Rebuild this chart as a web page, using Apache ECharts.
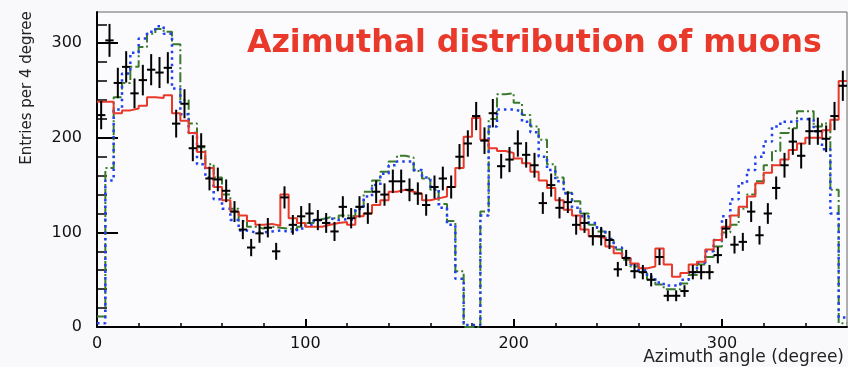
<!DOCTYPE html>
<html><head><meta charset="utf-8">
<script src="https://cdn.jsdelivr.net/npm/echarts@6/dist/echarts.min.js"></script>
<style>html,body{margin:0;padding:0;background:#f9f9fb;}#c{width:848px;height:367px;}</style>
</head><body><div id="c"></div>
<script>
// bin width in degrees (90 bins over 0..360)
const binWidth = 4;

// measured entries (black crosses)
const dataCounts = [
  224,303,258,275,247,261,272,269,274,215,236,189,191,157,156,
  144,122,103,84,99,105,80,137,108,117,120,113,110,101,127,
  115,127,120,143,140,154,154,145,141,129,148,157,148,180,194,
  223,197,226,170,177,194,182,171,131,150,126,132,108,110,96,
  96,92,61,73,59,58,50,74,33,33,38,58,58,58,76,
  104,87,90,122,97,120,147,171,196,181,207,207,199,223,255
];
// red solid histogram
const redHist = [
  238,238,226,229,231,234,243,242,245,226,218,205,185,168,148,
  134,122,118,112,108,109,107,140,115,110,106,106,108,110,111,
  108,117,120,129,134,143,145,143,141,134,136,138,148,168,201,
  221,198,189,186,184,178,173,164,155,147,134,124,118,103,96,
  94,85,78,73,67,62,64,83,66,53,57,66,69,82,92,
  106,118,127,138,152,163,171,177,187,194,200,200,208,219,260
];
// green dash-dot histogram
const greenHist = [
  11,168,243,258,275,296,310,315,312,299,240,215,190,172,158,
  140,125,112,106,104,106,105,104,103,106,110,114,116,114,118,
  117,127,143,155,164,175,181,179,165,157,145,130,112,59,0,
  0,122,220,246,247,237,224,212,198,172,158,142,133,120,108,
  101,92,82,71,64,57,50,45,40,40,46,55,66,74,85,
  100,108,125,140,154,171,186,205,210,228,228,212,215,145,4
];
// blue dotted histogram
const blueHist = [
  4,155,230,268,290,305,312,318,310,252,225,205,172,158,135,
  125,113,102,100,100,101,102,101,101,104,108,113,115,113,114,
  113,125,138,150,162,171,175,175,166,158,146,126,108,51,2,
  2,118,212,230,230,228,217,206,180,166,154,141,126,117,110,
  103,93,84,74,66,60,53,47,44,44,50,58,68,80,92,
  117,135,152,166,180,196,212,217,217,220,219,207,188,120,10
];

const xMajorTicks = [0,100,200,300];
const xMinorTicks = [20,40,60,80,120,140,160,180,220,240,260,280,320,340];
const yMajorTicks = [0,100,200,300];
const yMinorTicks = [20,40,60,80,120,140,160,180,220,240,260,280,320];

function stepPoints(vals){
  const pts = vals.map((v,i)=>[i*binWidth, v]);
  pts.push([vals.length*binWidth, vals[vals.length-1]]);
  return pts;
}

const FONT = 'DejaVu Sans';
const chart = echarts.init(document.getElementById('c'), null, {renderer:'canvas'});
chart.setOption({
  animation:false,
  backgroundColor:'#f9f9fb',
  title:[
    {text:'Azimuthal distribution of muons', left:247, top:28, padding:0,
     textStyle:{color:'#e8392b', fontSize:31.6, fontWeight:'bold', fontFamily:FONT}},
    {text:'Azimuth angle (degree)', right:4, top:349, padding:0,
     textStyle:{color:'#222', fontSize:17, fontWeight:'normal', fontFamily:FONT}}
  ],
  graphic:[
    {type:'text', x:27, y:88, rotation:Math.PI/2,
     style:{text:'Entries per 4 degree', fill:'#222', font:'15px "DejaVu Sans"', align:'center', verticalAlign:'middle'}}
  ],
  grid:{left:97, right:1, top:12, bottom:40, show:true, borderColor:'#666', borderWidth:1, backgroundColor:'#fbfbfd'},
  xAxis:[
    {type:'value', min:0, max:360, position:'bottom',
     axisLine:{show:true, onZero:false, lineStyle:{color:'#000', width:2}},
     axisTick:{show:true, inside:true, length:8, customValues:xMajorTicks, lineStyle:{color:'#000', width:2}},
     axisLabel:{show:true, customValues:xMajorTicks, color:'#111', fontFamily:FONT, fontSize:16, margin:9},
     splitLine:{show:false}},
    {type:'value', min:0, max:360, position:'bottom',
     axisLine:{show:false},
     axisTick:{show:true, inside:true, length:4, customValues:xMinorTicks, lineStyle:{color:'#000', width:1.5}},
     axisLabel:{show:false}, splitLine:{show:false}}
  ],
  yAxis:[
    {type:'value', min:0, max:333, position:'left',
     axisLine:{show:true, onZero:false, lineStyle:{color:'#000', width:2}},
     axisTick:{show:true, inside:true, length:21, customValues:yMajorTicks, lineStyle:{color:'#000', width:2}},
     axisLabel:{show:true, customValues:yMajorTicks, color:'#111', fontFamily:FONT, fontSize:16, margin:15},
     splitLine:{show:false}},
    {type:'value', min:0, max:333, position:'left',
     axisLine:{show:false},
     axisTick:{show:true, inside:true, length:10, customValues:yMinorTicks, lineStyle:{color:'#000', width:1.5}},
     axisLabel:{show:false}, splitLine:{show:false}}
  ],
  series:[
    {type:'line', name:'green', step:'end', data:stepPoints(greenHist), symbol:'none', z:2,
     lineStyle:{color:'#3b7a2c', width:2, type:[10,3,2,3]}},
    {type:'line', name:'blue', step:'end', data:stepPoints(blueHist), symbol:'none', z:3,
     lineStyle:{color:'#1f3ff0', width:2.5, type:[2.5,4]}},
    {type:'line', name:'red', step:'end', data:stepPoints(redHist), symbol:'none', z:4,
     lineStyle:{color:'#e8392b', width:2}},
    {type:'custom', name:'data', z:10,
     data:dataCounts.map((v,i)=>[i*binWidth+binWidth/2, v, Math.sqrt(v)]),
     renderItem:function(params, api){
       const x = api.value(0), y = api.value(1), e = api.value(2);
       const l = api.coord([x-binWidth/2, y]);
       const r = api.coord([x+binWidth/2, y]);
       const t = api.coord([x, y+e]);
       const b = api.coord([x, y-e]);
       return {type:'group', children:[
         {type:'line', shape:{x1:l[0], y1:l[1], x2:r[0], y2:r[1]}, style:{stroke:'#000', lineWidth:2}},
         {type:'line', shape:{x1:t[0], y1:t[1], x2:b[0], y2:b[1]}, style:{stroke:'#000', lineWidth:2}}
       ]};
     }}
  ]
});
</script>
</body></html>
